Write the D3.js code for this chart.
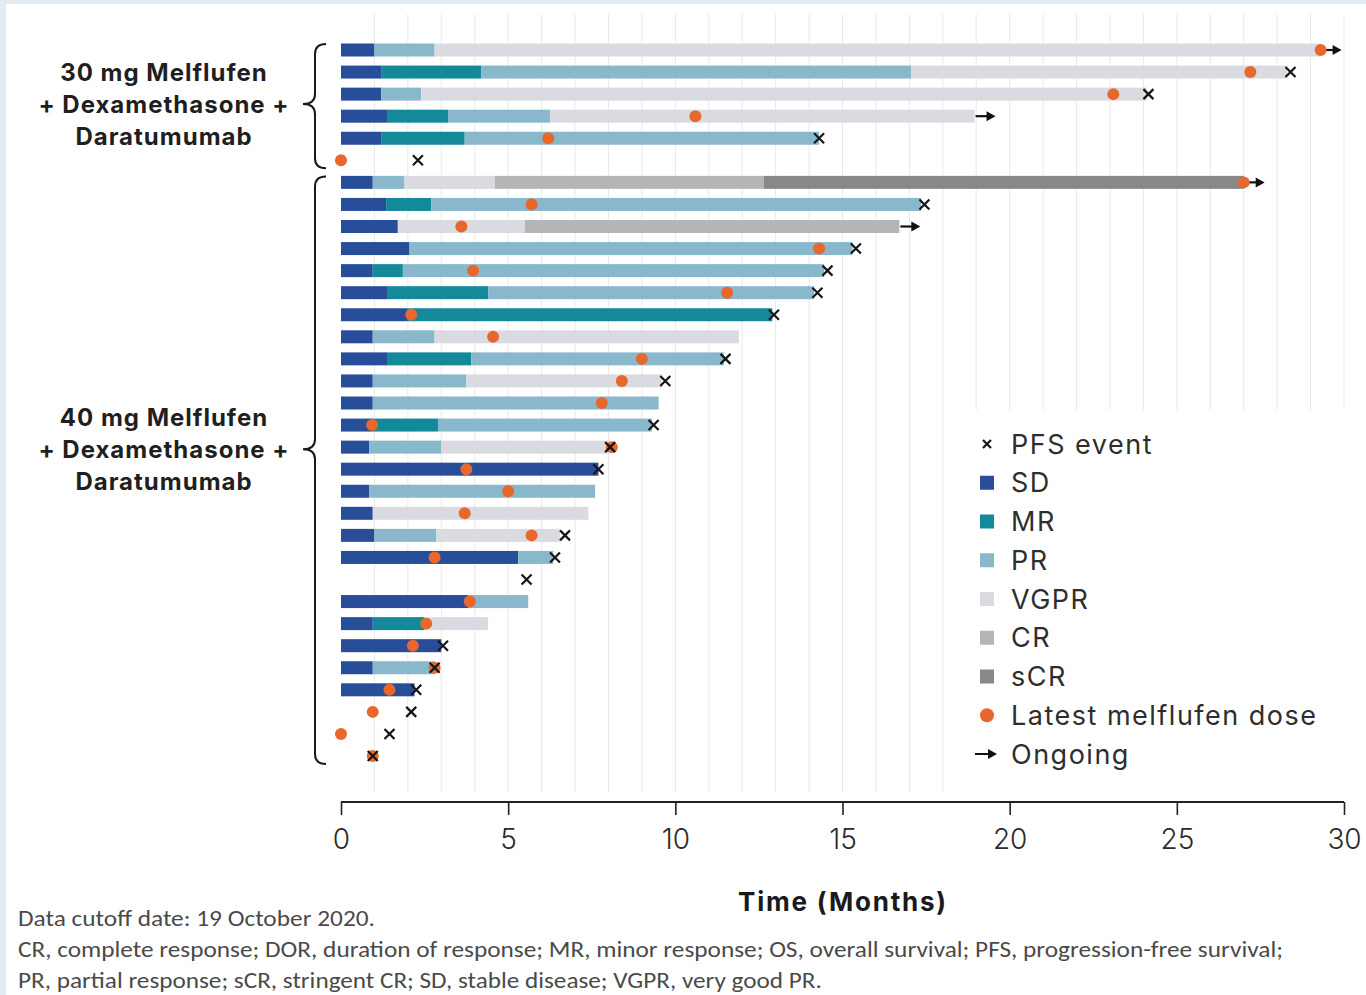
<!DOCTYPE html>
<html>
<head>
<meta charset="utf-8">
<script src="https://cdn.jsdelivr.net/npm/d3@7"></script>
<style>
  html, body { margin: 0; padding: 0; background: #e3eaf2; }
  svg { display: block; }
</style>
</head>
<body>
<svg id="chart" width="1366" height="995"></svg>
<script>
// Response phases per patient: [phase, start month, end month]
const segments = [
  // 30 mg cohort
  [["SD",0,1.0],["PR",1.0,2.8],["VGPR",2.8,29.3]],
  [["SD",0,1.2],["MR",1.2,4.2],["PR",4.2,17.05],["VGPR",17.05,28.3]],
  [["SD",0,1.2],["PR",1.2,2.4],["VGPR",2.4,24.1]],
  [["SD",0,1.4],["MR",1.4,3.2],["PR",3.2,6.25],["VGPR",6.25,18.95]],
  [["SD",0,1.2],["MR",1.2,3.7],["PR",3.7,14.3]],
  [],
  // 40 mg cohort
  [["SD",0,0.95],["PR",0.95,1.9],["VGPR",1.9,4.6],["CR",4.6,12.65],["sCR",12.65,27.0]],
  [["SD",0,1.35],["MR",1.35,2.7],["PR",2.7,17.35]],
  [["SD",0,1.7],["VGPR",1.7,5.5],["CR",5.5,16.7]],
  [["SD",0,2.05],["PR",2.05,15.3]],
  [["SD",0,0.95],["MR",0.95,1.85],["PR",1.85,14.45]],
  [["SD",0,1.4],["MR",1.4,4.4],["PR",4.4,14.15]],
  [["SD",0,2.0],["MR",2.0,12.9]],
  [["SD",0,0.95],["PR",0.95,2.8],["VGPR",2.8,11.9]],
  [["SD",0,1.4],["MR",1.4,3.9],["PR",3.9,11.45]],
  [["SD",0,0.95],["PR",0.95,3.75],["VGPR",3.75,9.6]],
  [["SD",0,0.95],["PR",0.95,9.5]],
  [["SD",0,0.95],["MR",0.95,2.9],["PR",2.9,9.3]],
  [["SD",0,0.85],["PR",0.85,3.0],["VGPR",3.0,8.05]],
  [["SD",0,7.7]],
  [["SD",0,0.85],["PR",0.85,7.6]],
  [["SD",0,0.95],["VGPR",0.95,7.4]],
  [["SD",0,1.0],["PR",1.0,2.85],["VGPR",2.85,6.55]],
  [["SD",0,5.3],["PR",5.3,6.35]],
  [],
  [["SD",0,3.8],["PR",3.8,5.6]],
  [["SD",0,0.95],["MR",0.95,2.5],["VGPR",2.5,4.4]],
  [["SD",0,3.0]],
  [["SD",0,0.95],["PR",0.95,2.8]],
  [["SD",0,2.2]],
  [],
  [],
  []
];

// Month of latest melflufen dose per patient (null = none)
const latestDose = [29.3, 27.2, 23.1, 10.6, 6.2, 0,
  27.0, 5.7, 3.6, 14.3, 3.95, 11.55, 2.1, 4.55, 9.0, 8.4, 7.8, 0.93, 8.1,
  3.75, 5.0, 3.7, 5.7, 2.8, null, 3.85, 2.55, 2.15, 2.8, 1.45, 0.95, 0, 0.95];

// Month of PFS event per patient (null = none)
const pfsEvent = [null, 28.4, 24.15, null, 14.3, 2.3,
  null, 17.45, null, 15.4, 14.55, 14.25, 12.95, null, 11.5, 9.7, null, 9.35, 8.05,
  7.7, null, null, 6.7, 6.4, 5.55, null, null, 3.05, 2.8, 2.25, 2.1, 1.45, 0.95];

// Ongoing response (arrow at bar end)
const ongoing = [true, false, false, true, false, false,
  true, false, true, false, false, false, false, false, false, false, false, false, false,
  false, false, false, false, false, false, false, false, false, false, false, false, false, false];

const phaseNames = ["SD", "MR", "PR", "VGPR", "CR", "sCR"];
const phaseColors = ["#284e9a", "#13899a", "#89b8cc", "#d9dbe1", "#b4b5b7", "#88888b"];
const doseColor = "#e8672c";

const xTicks = [0, 5, 10, 15, 20, 25, 30];
const gridMonths = d3.range(1, 31);

// cohort rows; labelRow is the (fractional) row where the brace points
const cohorts = [
  { lines: ["30 mg Melflufen", "+ Dexamethasone +", "Daratumumab"], first: 0, last: 5, labelRow: 2.45 },
  { lines: ["40 mg Melflufen", "+ Dexamethasone +", "Daratumumab"], first: 6, last: 32, labelRow: 18.1 }
];

const legendLabels = ["PFS event", "SD", "MR", "PR", "VGPR", "CR", "sCR", "Latest melflufen dose", "Ongoing"];

const footnotes = [
  "Data cutoff date: 19 October 2020.",
  "CR, complete response; DOR, duration of response; MR, minor response; OS, overall survival; PFS, progression-free survival;",
  "PR, partial response; sCR, stringent CR; SD, stable disease; VGPR, very good PR."
];

// ---------- drawing ----------
const svg = d3.select("#chart");
const color = d3.scaleOrdinal().domain(phaseNames).range(phaseColors);

const x = d3.scaleLinear().domain([0, 30]).range([341, 1344]);
const y = d3.scalePoint().domain(d3.range(segments.length)).range([50, 756]);
const yRow = d3.scaleLinear().domain([0, segments.length - 1]).range([50, 756]);
const barH = 13;

// white panel
svg.append("rect").attr("x", 6).attr("y", 4).attr("width", 1360).attr("height", 991).attr("fill", "#fff");

// vertical month gridlines
svg.append("g").selectAll("line").data(gridMonths).join("line")
  .attr("x1", d => x(d)).attr("x2", d => x(d))
  .attr("y1", 14).attr("y2", 792)
  .attr("stroke", "#e9e9e9").attr("stroke-width", 1);

// bars
const rows = svg.append("g").selectAll("g").data(segments).join("g")
  .attr("transform", (d, i) => `translate(0,${y(i)})`);

rows.selectAll("rect").data(d => d).join("rect")
  .attr("x", d => x(d[1]))
  .attr("width", d => x(d[2]) - x(d[1]))
  .attr("y", -barH / 2).attr("height", barH)
  .attr("fill", d => color(d[0]));

// ongoing arrows
const arrowRows = d3.range(segments.length).filter(i => ongoing[i]);
const arrowG = svg.append("g");
arrowRows.forEach(i => {
  const end = x(d3.max(segments[i], s => s[2]));
  const yy = y(i);
  arrowG.append("line").attr("x1", end + 1).attr("x2", end + 14).attr("y1", yy).attr("y2", yy)
    .attr("stroke", "#111").attr("stroke-width", 2.2);
  arrowG.append("path").attr("d", `M${end + 21},${yy} L${end + 12},${yy - 5} L${end + 12},${yy + 5} Z`)
    .attr("fill", "#111");
});

// latest dose markers
svg.append("g").selectAll("circle")
  .data(latestDose.map((v, i) => ({ v, i })).filter(d => d.v !== null)).join("circle")
  .attr("cx", d => x(d.v)).attr("cy", d => y(d.i)).attr("r", 6)
  .attr("fill", doseColor);

// PFS events
const cross = (g, cx, cy, s) => {
  g.append("path").attr("d", `M${cx - s},${cy - s} L${cx + s},${cy + s} M${cx - s},${cy + s} L${cx + s},${cy - s}`)
    .attr("stroke", "#151515").attr("stroke-width", 2.2).attr("fill", "none");
};
const crossG = svg.append("g");
pfsEvent.forEach((v, i) => { if (v !== null) cross(crossG, x(v), y(i), 5); });

// legend panel
const lg = svg.append("g");
lg.append("rect").attr("x", 955).attr("y", 410).attr("width", 405).attr("height", 382).attr("fill", "#fff");
const legY = d3.scalePoint().domain(legendLabels).range([444, 754]);
legendLabels.forEach(lbl => {
  const yy = legY(lbl);
  if (lbl === "PFS event") {
    cross(lg, 987, yy, 4);
  } else if (phaseNames.includes(lbl)) {
    lg.append("rect").attr("x", 980).attr("y", yy - 7).attr("width", 14).attr("height", 14).attr("fill", color(lbl));
  } else if (lbl === "Latest melflufen dose") {
    lg.append("circle").attr("cx", 987).attr("cy", yy).attr("r", 7).attr("fill", doseColor);
  } else {
    lg.append("line").attr("x1", 975).attr("x2", 989).attr("y1", yy).attr("y2", yy).attr("stroke", "#111").attr("stroke-width", 2);
    lg.append("path").attr("d", `M${997},${yy} L${988},${yy - 5} L${988},${yy + 5} Z`).attr("fill", "#111");
  }
  lg.append("text").attr("x", 1011).attr("y", yy).attr("dy", "0.36em")
    .attr("font-family", "Inter, 'Noto Sans', sans-serif").attr("font-size", 27).attr("font-weight", 400)
    .attr("letter-spacing", 1.5).attr("fill", "#2e2e2e").text(lbl);
});

// x axis
const axis = svg.append("g").attr("transform", "translate(0,802)")
  .call(d3.axisBottom(x).tickValues(xTicks).tickSize(13).tickPadding(14).tickFormat(d3.format("d")));
axis.select(".domain").attr("stroke", "#222").attr("stroke-width", 2.2).attr("d", `M${x(0)},0H${x(30)}`);
axis.selectAll(".tick line").attr("stroke", "#222").attr("stroke-width", 1.6);
axis.selectAll(".tick text").attr("font-family", "Inter, 'Noto Sans', sans-serif")
  .attr("font-size", 28).attr("font-weight", 300).attr("fill", "#2b2b2b");

svg.append("text").attr("x", 843).attr("y", 902).attr("dy", "0.36em").attr("text-anchor", "middle")
  .attr("font-family", "Inter, 'Noto Sans', sans-serif").attr("font-size", 26).attr("font-weight", 700)
  .attr("letter-spacing", 1.8).attr("fill", "#1a1a1a").text("Time (Months)");

// cohort braces and labels
const brace = (y0, y1, tip) => {
  const xr = 326, xm = 315, xt = 303, r = 10;
  return `M${xr},${y0} Q${xm},${y0} ${xm},${y0 + r} L${xm},${tip - r} Q${xm},${tip} ${xt},${tip}` +
         ` Q${xm},${tip} ${xm},${tip + r} L${xm},${y1 - r} Q${xm},${y1} ${xr},${y1}`;
};
cohorts.forEach(c => {
  const y0 = y(c.first) - 6, y1 = y(c.last) + 8, tip = yRow(c.labelRow);
  svg.append("path").attr("d", brace(y0, y1, tip)).attr("fill", "none").attr("stroke", "#1a1a1a").attr("stroke-width", 2);
  c.lines.forEach((t, k) => {
    svg.append("text").attr("x", 164).attr("y", tip + (k - 1) * 32).attr("dy", "0.36em")
      .attr("text-anchor", "middle").attr("font-family", "Inter, 'Noto Sans', sans-serif")
      .attr("font-size", 24).attr("font-weight", 700).attr("letter-spacing", 1.0)
      .attr("fill", "#1f1f1f").text(t);
  });
});

// footnotes
const fnWidths = [357, 1265, 804];
footnotes.forEach((t, k) => {
  svg.append("text").attr("x", 18).attr("y", 926 + k * 31)
    .attr("font-family", "Carlito, 'Liberation Sans Narrow', 'Open Sans', sans-serif")
    .attr("font-size", 23).attr("fill", "#4a4a4a")
    .attr("textLength", fnWidths[k]).attr("lengthAdjust", "spacingAndGlyphs").text(t);
});
</script>
</body>
</html>
